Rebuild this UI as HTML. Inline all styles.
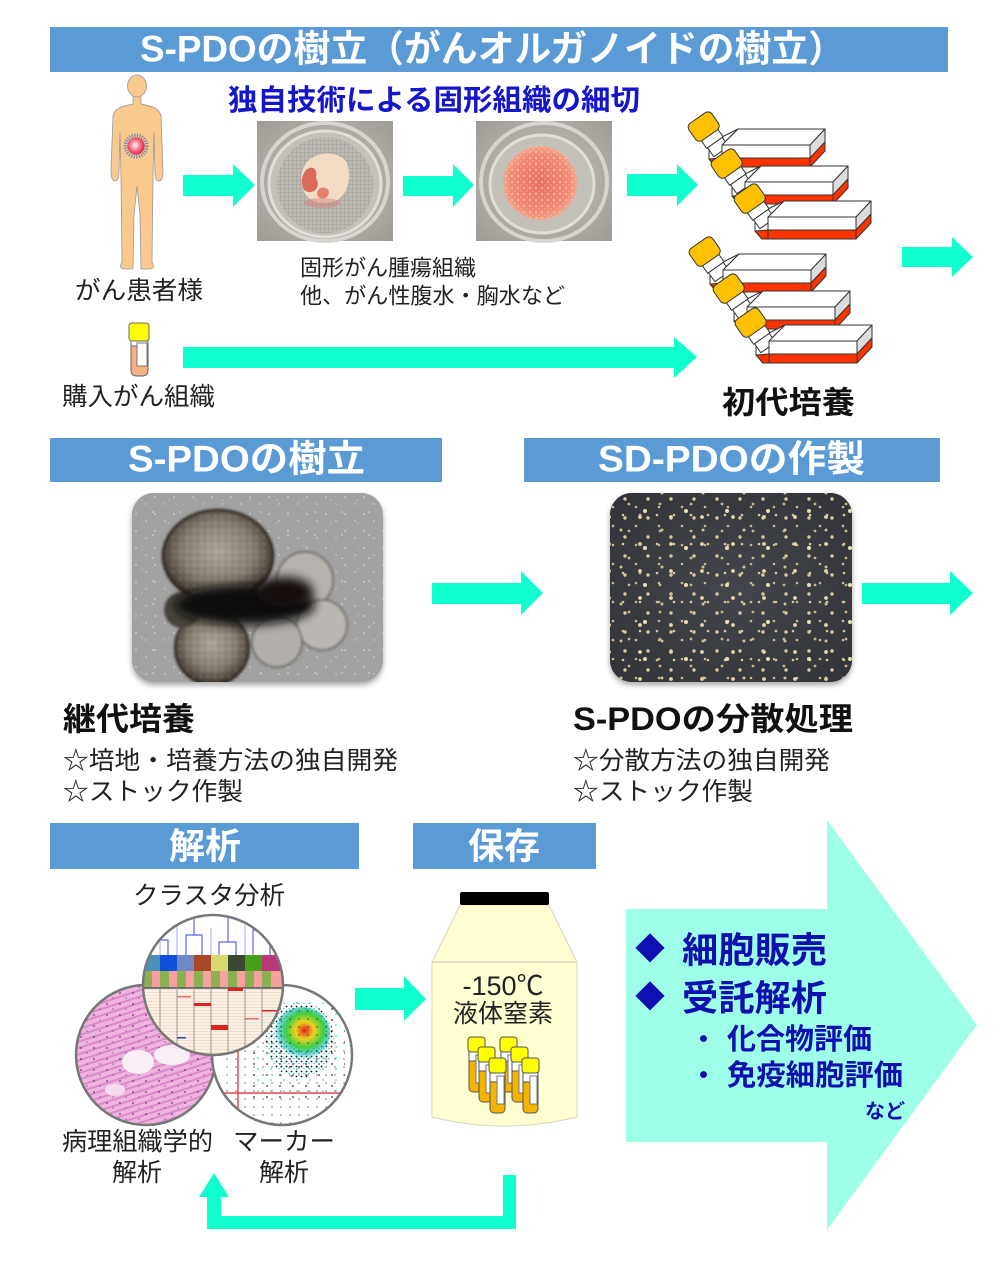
<!DOCTYPE html>
<html><head><meta charset="utf-8">
<style>
html,body{margin:0;padding:0;background:#fff;}
svg{display:block;}
text{font-family:"Liberation Sans","Noto Sans CJK JP",sans-serif;}
</style></head><body>
<svg width="1000" height="1261" viewBox="0 0 1000 1261" xmlns="http://www.w3.org/2000/svg">
<defs>
  <radialGradient id="tum" cx="0.45" cy="0.45" r="0.55">
    <stop offset="0" stop-color="#ffffff"/><stop offset="0.45" stop-color="#ff8aa0"/><stop offset="1" stop-color="#e8203c"/>
  </radialGradient>
  <radialGradient id="ph" cx="0.5" cy="0.5" r="0.7">
    <stop offset="0" stop-color="#c9c5bf"/><stop offset="1" stop-color="#9e9a94"/>
  </radialGradient>
  <pattern id="mesh" width="4" height="4" patternUnits="userSpaceOnUse">
    <rect width="4" height="4" fill="#bdb9b3"/><path d="M0,0 L4,0 M0,0 L0,4" stroke="#9a958e" stroke-width="0.8"/>
  </pattern>
  <radialGradient id="disk" cx="0.5" cy="0.5" r="0.5">
    <stop offset="0" stop-color="#ea7060"/><stop offset="0.8" stop-color="#f08a74"/><stop offset="1" stop-color="#f0a890"/>
  </radialGradient>
  <pattern id="gran" width="6" height="6" patternUnits="userSpaceOnUse">
    <circle cx="2" cy="2" r="1.1" fill="#f8c4aa"/><circle cx="5" cy="5" r="0.8" fill="#f6b69c"/>
  </pattern>
  <radialGradient id="blob" cx="0.5" cy="0.45" r="0.55">
    <stop offset="0" stop-color="#b0a89c"/><stop offset="0.6" stop-color="#857c70"/><stop offset="0.9" stop-color="#4a423a"/><stop offset="1" stop-color="#221c18"/>
  </radialGradient>
  <pattern id="spk" width="19" height="17" patternUnits="userSpaceOnUse">
    <circle cx="3" cy="4" r="0.9" fill="#d6d6d6"/><circle cx="13" cy="11" r="0.7" fill="#dcdcdc"/>
  </pattern>
  <pattern id="spk2" width="27" height="23" patternUnits="userSpaceOnUse">
    <circle cx="18" cy="6" r="0.8" fill="#e0e0e0"/><circle cx="7" cy="17" r="0.6" fill="#d0d0d0"/>
  </pattern>
  <pattern id="blt" width="7" height="7" patternUnits="userSpaceOnUse">
    <circle cx="2" cy="2" r="1.2" fill="#5a524a" opacity="0.5"/><circle cx="5" cy="5" r="1" fill="#c8c0b4" opacity="0.5"/>
  </pattern>
  <pattern id="dA" width="23" height="19" patternUnits="userSpaceOnUse">
    <circle cx="4" cy="5" r="1.7" fill="#dcc8a0"/><circle cx="15" cy="13" r="1.3" fill="#cbb690"/>
  </pattern>
  <pattern id="dB" width="31" height="27" patternUnits="userSpaceOnUse">
    <circle cx="20" cy="4" r="1.9" fill="#e8d6aa"/><circle cx="9" cy="18" r="1.4" fill="#c8b48c"/>
  </pattern>
  <pattern id="dC" width="17" height="29" patternUnits="userSpaceOnUse">
    <circle cx="11" cy="22" r="1.3" fill="#d8c49c"/>
  </pattern>
  <pattern id="dD" width="41" height="37" patternUnits="userSpaceOnUse">
    <circle cx="30" cy="30" r="2" fill="#eadcb4"/><circle cx="6" cy="12" r="1.5" fill="#d4c098"/>
  </pattern>
  <radialGradient id="dark2" cx="0.5" cy="0.5" r="0.7">
    <stop offset="0" stop-color="#43464c"/><stop offset="1" stop-color="#313338"/>
  </radialGradient>
  <pattern id="he" width="9" height="6" patternUnits="userSpaceOnUse" patternTransform="rotate(-18)">
    <rect width="9" height="6" fill="#eeb4de"/><rect y="0" width="9" height="2" fill="#d98ac8"/>
  </pattern>
  <pattern id="nuc" width="13" height="11" patternUnits="userSpaceOnUse">
    <circle cx="3" cy="3" r="1" fill="#6a2a6a"/><circle cx="9" cy="8" r="0.8" fill="#803a80"/>
  </pattern>
  <pattern id="sc1" width="9" height="8" patternUnits="userSpaceOnUse">
    <circle cx="2" cy="3" r="0.9" fill="#222"/>
  </pattern>
  <pattern id="sc2" width="13" height="11" patternUnits="userSpaceOnUse">
    <circle cx="7" cy="8" r="0.9" fill="#333"/><circle cx="11" cy="2" r="0.8" fill="#0cc"/>
  </pattern>
  <pattern id="sc3" width="5" height="5" patternUnits="userSpaceOnUse">
    <circle cx="1.5" cy="1.5" r="0.9" fill="#111"/><circle cx="4" cy="3.5" r="0.7" fill="#0cc"/>
  </pattern>
  <radialGradient id="dens" cx="0.55" cy="0.45" r="0.55">
    <stop offset="0" stop-color="#e02020"/><stop offset="0.3" stop-color="#f0d020"/><stop offset="0.6" stop-color="#40d040"/><stop offset="0.85" stop-color="#20c0c0" stop-opacity="0.6"/><stop offset="1" stop-color="#20c0c0" stop-opacity="0"/>
  </radialGradient>
  <pattern id="hm" width="10" height="3" patternUnits="userSpaceOnUse">
    <rect width="10" height="3" fill="#fbf1e4"/><rect y="2" width="10" height="1" fill="#f2dccb"/>
  </pattern>
  <clipPath id="cTop"><circle cx="213" cy="985" r="70"/></clipPath>
  <clipPath id="cLeft"><circle cx="146" cy="1055" r="70"/></clipPath>
  <clipPath id="cRight"><circle cx="282" cy="1055" r="70"/></clipPath>
  <clipPath id="img1"><rect x="132" y="493" width="251" height="189" rx="22"/></clipPath>
  <clipPath id="img2"><rect x="610" y="493" width="242" height="189" rx="22"/></clipPath>
  <filter id="sh" x="-10%" y="-10%" width="120%" height="130%">
    <feDropShadow dx="0" dy="3" stdDeviation="3" flood-color="#000" flood-opacity="0.35"/>
  </filter>
  <filter id="bl" x="-20%" y="-20%" width="140%" height="140%"><feGaussianBlur stdDeviation="1.2"/></filter>
  <filter id="bl4" x="-30%" y="-30%" width="160%" height="160%"><feGaussianBlur stdDeviation="5"/></filter>

  <g id="flask" stroke="#333" stroke-width="1" stroke-linejoin="round">
    <polygon points="-13,6 -2,-7 16,-16 0,0 0,22 -6,22 -13,14" fill="#fff"/>
    <polygon points="-13,14 0,13 0,22 -6,22" fill="#ff3300"/>
    <g transform="translate(-18,-18) rotate(-35)">
      <rect x="-10" y="8" width="20" height="11" fill="#fff"/>
      <rect x="-9" y="19" width="18" height="11" fill="#fff"/>
    </g>
    <polygon points="0,0 16,-16 103,-16 88,0" fill="#fff"/>
    <rect x="0" y="0" width="88" height="22" fill="#fff"/>
    <rect x="0" y="13" width="88" height="9" fill="#ff3300"/>
    <polygon points="88,0 103,-16 103,-3 88,13" fill="#dcdcdc"/>
    <polygon points="88,13 103,-3 103,6 88,22" fill="#ff3300"/>
    <g transform="translate(-18,-18) rotate(-35)">
      <rect x="-14" y="-11" width="28" height="21" rx="5" fill="#ffc000"/>
    </g>
  </g>

  <g id="tube" stroke="#555" stroke-width="1">
    <rect x="1" y="10" width="15" height="45" rx="4" fill="#f5b400"/>
    <rect x="1" y="12" width="15" height="12" fill="#fff"/>
    <rect x="8" y="18" width="7" height="28" fill="#fff" stroke="#777"/>
    <rect x="0" y="0" width="17" height="15" rx="3" fill="#ffff00"/>
  </g>
</defs>

<!-- ===== Top header ===== -->
<rect x="50" y="27" width="898" height="45" fill="#5b9bd5"/>
<text x="140" y="49" font-size="37" font-weight="bold" fill="#fff" dominant-baseline="central" textLength="705" lengthAdjust="spacingAndGlyphs">S-PDOの樹立（がんオルガノイドの樹立）</text>

<text x="228" y="101" font-size="29" font-weight="bold" fill="#1515cc" dominant-baseline="central" textLength="412" lengthAdjust="spacingAndGlyphs">独自技術による固形組織の細切</text>

<!-- Human figure -->
<path d="M133,95 L133,104 C124,106 115,107 113,116 L111,170 C111,176 112,181 115,181 C118,181 119,178 119,172 L120,132 L121,178 L122,262 C120,266 119,269 126,269 L133,269 L134,215 L137,186 L140,215 L141,269 L148,269 C155,269 154,266 152,262 L153,178 L154,132 L155,172 C155,178 156,181 159,181 C162,181 163,176 163,170 L161,116 C159,107 150,106 141,104 L141,95 Z" fill="#f9c98e" stroke="#999" stroke-width="0.8"/>
<ellipse cx="137" cy="86" rx="9.5" ry="11" fill="#f9c98e" stroke="#999" stroke-width="0.8"/>
<circle cx="136" cy="146" r="10.5" fill="none" stroke="#7a8aa8" stroke-width="4" stroke-dasharray="1.2 1.3"/>
<circle cx="136" cy="146" r="8.5" fill="url(#tum)"/>
<text x="75" y="291" font-size="25" fill="#222" dominant-baseline="central" textLength="128" lengthAdjust="spacingAndGlyphs">がん患者様</text>

<!-- Photo 1 -->
<rect x="257" y="121" width="136" height="120" fill="url(#ph)"/>
<ellipse cx="325" cy="182" rx="63" ry="59" fill="none" stroke="#d8d5d0" stroke-width="4"/>
<ellipse cx="325" cy="184" rx="56" ry="53" fill="#c4c0ba" stroke="#e2dfda" stroke-width="3"/>
<circle cx="325" cy="185" r="48" fill="url(#mesh)"/>
<path d="M305,165 C312,152 335,150 345,160 C352,170 350,190 340,198 C330,206 312,204 306,195 C300,186 300,174 305,165 Z" fill="#f2dcc6"/>
<path d="M306,170 C312,165 318,168 316,178 C322,188 312,196 304,190 C300,182 302,175 306,170 Z" fill="#dc6a5a"/>
<path d="M320,188 C328,186 332,192 326,198 C318,200 314,194 320,188 Z" fill="#e88070"/>
<ellipse cx="322" cy="203" rx="18" ry="5" fill="#d88080" opacity="0.5"/>

<!-- Photo 2 -->
<rect x="476" y="121" width="136" height="120" fill="url(#ph)"/>
<ellipse cx="544" cy="182" rx="63" ry="59" fill="none" stroke="#d8d5d0" stroke-width="4"/>
<ellipse cx="542" cy="184" rx="52" ry="49" fill="#c4c0ba" stroke="#e2dfda" stroke-width="3"/>
<circle cx="540" cy="183" r="37" fill="url(#disk)"/>
<circle cx="540" cy="183" r="37" fill="url(#gran)" opacity="0.8"/>

<text x="300" y="268" font-size="22" fill="#222" dominant-baseline="central" textLength="176" lengthAdjust="spacingAndGlyphs">固形がん腫瘍組織</text>
<text x="300" y="296" font-size="22" fill="#222" dominant-baseline="central" textLength="265" lengthAdjust="spacingAndGlyphs">他、がん性腹水・胸水など</text>

<!-- Arrows -->
<g fill="#0fffcf">
  <polygon points="183,175 233,175 233,164 255,185 233,207 233,196 183,196"/>
  <polygon points="403,176 453,176 453,164 474,185 453,207 453,196 403,196"/>
  <polygon points="627,174 677,174 677,164 698,185 677,206 677,196 627,196"/>
  <polygon points="902,247 952,247 952,237 973,257 952,277 952,267 902,267"/>
  <polygon points="183,347 674,347 674,337 697,357 674,378 674,368 183,368"/>
  <polygon points="432,583 521,583 521,571 543,593 521,615 521,604 432,604"/>
  <polygon points="862,583 950,583 950,571 973,593 950,615 950,604 862,604"/>
  <polygon points="355,988 404,988 404,976 426,999 404,1021 404,1010 355,1010"/>
  <polygon points="503,1175 516,1175 516,1229 207,1229 207,1197 199,1197 214,1173 229,1197 221,1197 221,1216 503,1216"/>
</g>

<!-- Flasks -->
<use href="#flask" x="722" y="145"/>
<use href="#flask" x="745" y="182"/>
<use href="#flask" x="768" y="217"/>
<use href="#flask" x="723" y="270"/>
<use href="#flask" x="747" y="307"/>
<use href="#flask" x="769" y="341"/>
<text x="722" y="403" font-size="31" font-weight="bold" fill="#111" dominant-baseline="central" textLength="133" lengthAdjust="spacingAndGlyphs">初代培養</text>

<!-- purchase tube -->
<g stroke="#666" stroke-width="1">
  <path d="M131,341 L148,341 L148,370 Q148,376 142,376 L137,376 Q131,376 131,370 Z" fill="#f4b183"/>
  <rect x="131" y="341" width="17" height="5" fill="#fff"/>
  <rect x="137" y="343" width="10" height="23" fill="#fff" stroke="#777"/>
  <rect x="129" y="323" width="20" height="18" rx="3" fill="#ffff00"/>
</g>
<text x="62" y="397" font-size="25" fill="#222" dominant-baseline="central" textLength="153" lengthAdjust="spacingAndGlyphs">購入がん組織</text>

<!-- ===== Section 2 ===== -->
<rect x="50" y="438" width="392" height="44" fill="#5b9bd5"/>
<text x="128" y="459" font-size="37" font-weight="bold" fill="#fff" dominant-baseline="central" textLength="237" lengthAdjust="spacingAndGlyphs">S-PDOの樹立</text>
<rect x="524" y="438" width="416" height="44" fill="#5b9bd5"/>
<text x="598" y="459" font-size="37" font-weight="bold" fill="#fff" dominant-baseline="central" textLength="267" lengthAdjust="spacingAndGlyphs">SD-PDOの作製</text>

<!-- Organoid image 1 -->
<rect x="132" y="493" width="251" height="189" rx="22" fill="#a3a3a3" filter="url(#sh)"/>
<g clip-path="url(#img1)">
  <rect x="132" y="493" width="251" height="189" fill="#a2a2a2"/>
  <rect x="132" y="493" width="251" height="189" fill="url(#spk)"/>
  <rect x="132" y="493" width="251" height="189" fill="url(#spk2)"/>
  <g filter="url(#bl)">
    <circle cx="305" cy="580" r="28" fill="#b6b3ae" stroke="#5a5550" stroke-width="1.5"/>
    <circle cx="322" cy="625" r="25" fill="#bab7b2" stroke="#5a5550" stroke-width="1.5"/>
    <circle cx="277" cy="642" r="25" fill="#b2afaa" stroke="#5a5550" stroke-width="1.5"/>
    <circle cx="212" cy="648" r="37" fill="url(#blob)" stroke="#2a241f" stroke-width="2"/>
    <circle cx="212" cy="648" r="35" fill="url(#blt)"/>
    <circle cx="182" cy="610" r="18" fill="#4a443e"/>
    <ellipse cx="218" cy="556" rx="55" ry="46" fill="url(#blob)" stroke="#2a241f" stroke-width="2.5"/>
    <ellipse cx="218" cy="556" rx="52" ry="43" fill="url(#blt)"/>
  </g>
  <ellipse cx="245" cy="605" rx="70" ry="20" fill="#100c0a" filter="url(#bl4)"/>
  <ellipse cx="285" cy="592" rx="28" ry="15" fill="#15110e" filter="url(#bl4)"/>
</g>

<!-- Organoid image 2 -->
<rect x="610" y="493" width="242" height="189" rx="22" fill="#3a3c42" filter="url(#sh)"/>
<g clip-path="url(#img2)">
  <rect x="610" y="493" width="242" height="189" fill="url(#dark2)"/>
  <rect x="610" y="493" width="242" height="189" fill="url(#dA)"/>
  <rect x="610" y="493" width="242" height="189" fill="url(#dB)"/>
  <rect x="610" y="493" width="242" height="189" fill="url(#dC)"/>
  <rect x="610" y="493" width="242" height="189" fill="url(#dD)"/>
</g>

<text x="63" y="719" font-size="32" font-weight="bold" fill="#111" dominant-baseline="central" textLength="132" lengthAdjust="spacingAndGlyphs">継代培養</text>
<text x="63" y="761" font-size="25" fill="#222" dominant-baseline="central" textLength="335" lengthAdjust="spacingAndGlyphs">☆培地・培養方法の独自開発</text>
<text x="63" y="792" font-size="25" fill="#222" dominant-baseline="central" textLength="180" lengthAdjust="spacingAndGlyphs">☆ストック作製</text>

<text x="573" y="719" font-size="32" font-weight="bold" fill="#111" dominant-baseline="central" textLength="280" lengthAdjust="spacingAndGlyphs">S-PDOの分散処理</text>
<text x="573" y="761" font-size="25" fill="#222" dominant-baseline="central" textLength="257" lengthAdjust="spacingAndGlyphs">☆分散方法の独自開発</text>
<text x="573" y="792" font-size="25" fill="#222" dominant-baseline="central" textLength="180" lengthAdjust="spacingAndGlyphs">☆ストック作製</text>

<!-- ===== Section 3 ===== -->
<rect x="50" y="823" width="309" height="46" fill="#5b9bd5"/>
<text x="205" y="846" font-size="36" font-weight="bold" fill="#fff" dominant-baseline="central" text-anchor="middle">解析</text>
<rect x="413" y="823" width="183" height="46" fill="#5b9bd5"/>
<text x="504" y="846" font-size="36" font-weight="bold" fill="#fff" dominant-baseline="central" text-anchor="middle">保存</text>

<text x="133" y="896" font-size="25" fill="#222" dominant-baseline="central" textLength="152" lengthAdjust="spacingAndGlyphs">クラスタ分析</text>

<!-- left circle H&E -->
<g clip-path="url(#cLeft)">
  <rect x="70" y="980" width="160" height="150" fill="url(#he)"/>
  <rect x="70" y="980" width="160" height="150" fill="url(#nuc)" opacity="0.7"/>
  <ellipse cx="138" cy="1062" rx="16" ry="12" fill="#f8eef6"/>
  <ellipse cx="172" cy="1055" rx="18" ry="10" fill="#f8eef6"/>
  <ellipse cx="115" cy="1090" rx="10" ry="6" fill="#f4dcee"/>
</g>
<circle cx="146" cy="1055" r="70" fill="none" stroke="#777" stroke-width="2.5"/>

<!-- right circle scatter -->
<g clip-path="url(#cRight)">
  <rect x="210" y="983" width="145" height="145" fill="#fff"/>
  <rect x="225" y="1040" width="120" height="85" fill="url(#sc1)" opacity="0.5"/>
  <rect x="250" y="1000" width="95" height="100" fill="url(#sc2)"/>
  <ellipse cx="300" cy="1040" rx="34" ry="38" fill="url(#sc3)"/>
  <ellipse cx="302" cy="1033" rx="28" ry="26" fill="url(#dens)"/>
  <ellipse cx="300" cy="1040" rx="30" ry="34" fill="url(#sc1)" opacity="0.6"/>
  <line x1="238" y1="990" x2="238" y2="1128" stroke="#e02020" stroke-width="1.2"/>
  <line x1="220" y1="1093" x2="352" y2="1093" stroke="#e02020" stroke-width="1.2"/>
</g>
<circle cx="282" cy="1055" r="70" fill="none" stroke="#777" stroke-width="2.5"/>

<!-- top circle heatmap -->
<g clip-path="url(#cTop)">
  <rect x="140" y="912" width="150" height="150" fill="#fff"/>
  <g stroke="#5a64f0" stroke-width="1.2" fill="none">
    <path d="M151,955 V940 H168 V955"/>
    <path d="M186,955 V935 H202 V955"/>
    <path d="M194,935 V915"/>
    <path d="M219,955 V942 H236 V955"/>
    <path d="M228,942 V915"/>
    <path d="M253,955 V930 H270 V955"/>
    <path d="M262,930 V915"/>
  </g>
  <g stroke="#b0b8ff" stroke-width="1.2" fill="none">
    <path d="M160,955 V930 M177,955 V925 M211,955 V928 M245,955 V925 M278,955 V935"/>
  </g>
  <rect x="143" y="955" width="17" height="16" fill="#4a90b8"/>
  <rect x="160" y="955" width="17" height="16" fill="#1050d8"/>
  <rect x="177" y="955" width="17" height="16" fill="#7088c8"/>
  <rect x="194" y="955" width="17" height="16" fill="#a84828"/>
  <rect x="211" y="955" width="17" height="16" fill="#d8d870"/>
  <rect x="228" y="955" width="17" height="16" fill="#3a4a30"/>
  <rect x="245" y="955" width="17" height="16" fill="#48a018"/>
  <rect x="262" y="955" width="22" height="16" fill="#b83878"/>
  <g fill="#8ab050">
    <rect x="143" y="971" width="9" height="17"/><rect x="160" y="971" width="9" height="17"/>
    <rect x="177" y="971" width="9" height="17"/><rect x="194" y="971" width="9" height="17"/>
    <rect x="211" y="971" width="9" height="17"/><rect x="228" y="971" width="9" height="17"/>
    <rect x="245" y="971" width="9" height="17"/><rect x="262" y="971" width="9" height="17"/>
  </g>
  <g fill="#f8a0a0">
    <rect x="152" y="971" width="8" height="17"/><rect x="169" y="971" width="8" height="17"/>
    <rect x="186" y="971" width="8" height="17"/><rect x="203" y="971" width="8" height="17"/>
    <rect x="220" y="971" width="8" height="17"/><rect x="237" y="971" width="8" height="17"/>
    <rect x="254" y="971" width="8" height="17"/><rect x="271" y="971" width="13" height="17"/>
  </g>
  <rect x="140" y="988" width="150" height="70" fill="url(#hm)"/>
  <line x1="140" y1="988" x2="290" y2="988" stroke="#555" stroke-width="1.5"/>
  <g stroke="#999" stroke-width="1">
    <path d="M160,988 V1060 M177,988 V1060 M194,988 V1060 M211,988 V1060 M228,988 V1060 M245,988 V1060 M262,988 V1060"/>
  </g>
  <g fill="#e02020">
    <rect x="194" y="1003" width="17" height="3"/>
    <rect x="228" y="988" width="15" height="3"/>
    <rect x="211" y="1025" width="17" height="5"/>
    <rect x="262" y="1010" width="16" height="1.5"/>
    <rect x="177" y="996" width="14" height="1.5" opacity="0.6"/>
    <rect x="245" y="1018" width="14" height="1.5" opacity="0.6"/>
  </g>
  <rect x="177" y="1037" width="9" height="1.5" fill="#2040c0"/>
</g>
<circle cx="213" cy="985" r="70" fill="none" stroke="#777" stroke-width="2.5"/>

<text x="62" y="1142" font-size="25" fill="#222" dominant-baseline="central" textLength="151" lengthAdjust="spacingAndGlyphs">病理組織学的</text>
<text x="137" y="1173" font-size="25" fill="#222" dominant-baseline="central" text-anchor="middle">解析</text>
<text x="233" y="1142" font-size="25" fill="#222" dominant-baseline="central" textLength="102" lengthAdjust="spacingAndGlyphs">マーカー</text>
<text x="284" y="1173" font-size="25" fill="#222" dominant-baseline="central" text-anchor="middle">解析</text>

<!-- Bottle -->
<path d="M460,905 L549,905 L577,962 L577,1117 Q504,1135 432,1117 L432,962 Z" fill="#ffffd2" stroke="#d6d6bc" stroke-width="1"/>
<line x1="432" y1="962" x2="577" y2="962" stroke="#d8d8c4" stroke-width="1.5"/>
<rect x="460" y="892" width="89" height="13" rx="2" fill="#000"/>
<text x="503" y="986" font-size="27" fill="#222" dominant-baseline="central" text-anchor="middle">-150℃</text>
<text x="503" y="1014" font-size="25" fill="#222" dominant-baseline="central" text-anchor="middle">液体窒素</text>
<use href="#tube" x="468" y="1037"/>
<use href="#tube" x="500" y="1037"/>
<use href="#tube" x="478" y="1047"/>
<use href="#tube" x="511" y="1047"/>
<use href="#tube" x="489" y="1058"/>
<use href="#tube" x="522" y="1058"/>

<!-- Big arrow -->
<polygon points="626,909 827,909 827,820 977,1025 827,1230 827,1142 626,1142" fill="#9effe8"/>
<g fill="#1010b0" font-weight="bold">
  <text x="635" y="950" font-size="30" dominant-baseline="central">◆</text>
  <text x="682" y="950" font-size="36" dominant-baseline="central" textLength="145" lengthAdjust="spacingAndGlyphs">細胞販売</text>
  <text x="635" y="998" font-size="30" dominant-baseline="central">◆</text>
  <text x="682" y="998" font-size="36" dominant-baseline="central" textLength="145" lengthAdjust="spacingAndGlyphs">受託解析</text>
  <text x="690" y="1040" font-size="27" dominant-baseline="central">・</text>
  <text x="727" y="1040" font-size="29" dominant-baseline="central" textLength="145" lengthAdjust="spacingAndGlyphs">化合物評価</text>
  <text x="690" y="1076" font-size="27" dominant-baseline="central">・</text>
  <text x="727" y="1076" font-size="29" dominant-baseline="central" textLength="176" lengthAdjust="spacingAndGlyphs">免疫細胞評価</text>
  <text x="865" y="1112" font-size="20" dominant-baseline="central" textLength="40" lengthAdjust="spacingAndGlyphs">など</text>
</g>
</svg>
</body></html>
